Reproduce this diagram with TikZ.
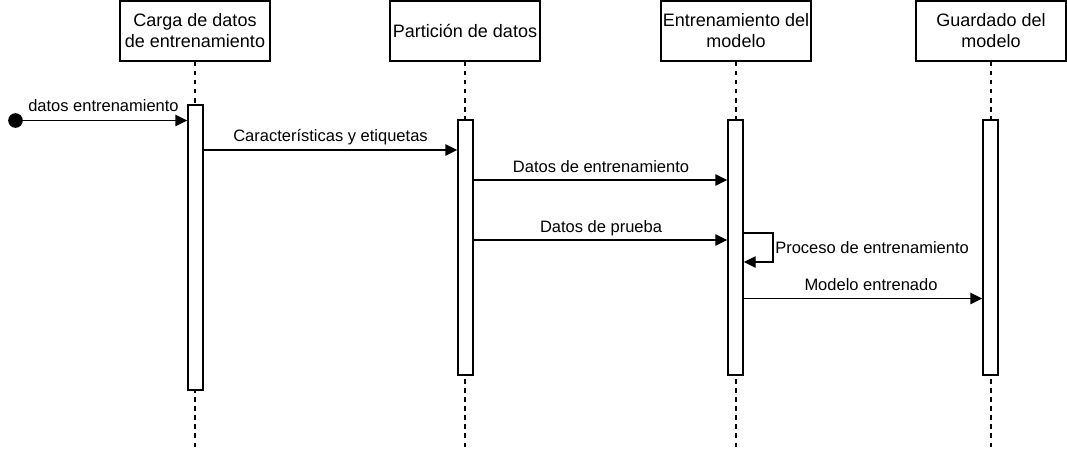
\documentclass[tikz,border=0pt]{standalone}
\usepackage{fontspec}
\setmainfont{Liberation Sans}
\usetikzlibrary{arrows.meta,calc}
\begin{document}
\begin{tikzpicture}[x=0.75pt,y=-0.75pt,
  header/.style={draw, line width=1.1pt, fill=white, minimum width=112.5pt, minimum height=45pt,
    align=center, inner sep=0pt, font=\fontsize{13.5}{15.75}\selectfont},
  lifeline/.style={line width=1.1pt, dash pattern=on 3.4pt off 3.4pt},
  bar/.style={draw, line width=1.1pt, fill=white, minimum width=11.25pt, inner sep=0pt},
  msg/.style={line width=1.1pt, -{Triangle[length=9pt,width=8.5pt]}},
  lbl/.style={font=\fontsize{12.375}{14}\selectfont, inner sep=0pt}]
\useasboundingbox (0,0) rectangle (1067,453);
\coordinate (bottom) at (0,451);
% headers
\node[header] (h1) at (195,31) {Carga de datos\\de entrenamiento};
\node[header] (h2) at (465,31) {Partición de datos};
\node[header] (h3) at (736,31) {Entrenamiento del\\modelo};
\node[header] (h4) at (991,31) {Guardado del\\modelo};
% lifelines
\foreach \h in {h1,h2,h3,h4}
  \draw[lifeline] (\h.south) -- (\h.south |- bottom);
% activation bars
\node[bar, minimum height=213.75pt] (b1) at (195.5,247.5) {};
\node[bar, minimum height=191.25pt] (b2) at (465.5,247.5) {};
\node[bar, minimum height=191.25pt] (b3) at (735.5,247.5) {};
\node[bar, minimum height=191.25pt] (b4) at (990.5,247.5) {};
% start point
\node[circle, fill=black, minimum size=11pt, inner sep=0pt] (start) at (15.5,120.5) {};
\draw[msg] (start.center) -- (b1.west |- start.center);
\node[lbl, anchor=base west] (l0) at (28,112) {datos entrenamiento};
% messages
\coordinate (y1) at (0,150);
\draw[msg] (b1.east |- y1) -- (b2.west |- y1);
\node[lbl, anchor=base] (l1) at (330.5,142) {Características y etiquetas};
\coordinate (y2) at (0,180);
\draw[msg] (b2.east |- y2) -- (b3.west |- y2);
\node[lbl, anchor=base] (l2) at (601,172) {Datos de entrenamiento};
\coordinate (y3) at (0,240);
\draw[msg] (b2.east |- y3) -- (b3.west |- y3);
\node[lbl, anchor=base] (l3) at (601,232) {Datos de prueba};
% self loop
\coordinate (s1) at (0,233);
\coordinate (s2) at (0,262);
\draw[msg] (b3.east |- s1) -- (773,233) -- (773,262) -- (b3.east |- s2);
\node[lbl, anchor=base west] (l4) at (775,253) {Proceso de entrenamiento};
% final message
\coordinate (y5) at (0,298.5);
\draw[msg] (b3.east |- y5) -- (b4.west |- y5);
\node[lbl, anchor=base] (l5) at (871,290.5) {Modelo entrenado};
\end{tikzpicture}
\end{document}
